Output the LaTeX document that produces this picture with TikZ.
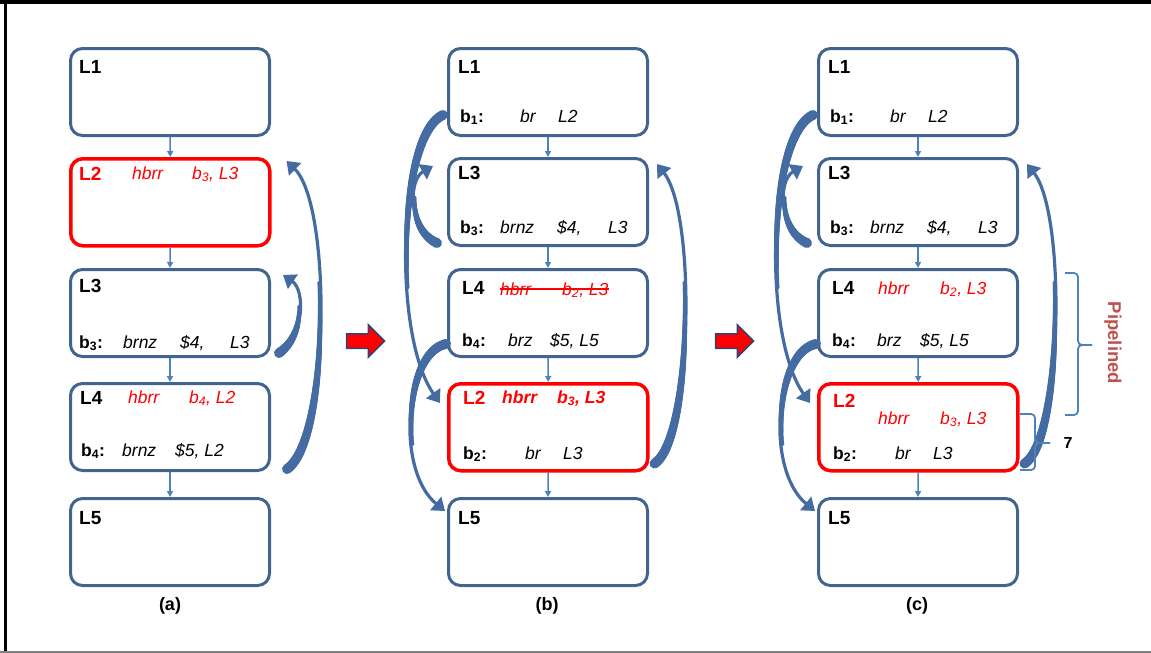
\documentclass[tikz,border=0pt]{standalone}
\usepackage{fontspec}
\setmainfont{Liberation Sans}
\usetikzlibrary{arrows.meta,shapes.arrows,calc,decorations.markings}
\definecolor{boxblue}{RGB}{65,100,145}
\definecolor{arrblue}{RGB}{68,108,162}
\definecolor{thinblue}{RGB}{79,129,189}
\definecolor{pipred}{RGB}{192,80,77}
\definecolor{blockedge}{RGB}{40,70,120}
\begin{document}
\begin{tikzpicture}[x=1pt,y=-1pt,
 box/.style={draw=boxblue, line width=3pt, rounded corners=12pt, minimum width=199pt, minimum height=87pt, anchor=north west, inner sep=0},
 redbox/.style={box, draw=red, line width=3.5pt},
 lab/.style={font=\fontsize{19}{19}\selectfont\bfseries, inner sep=0, anchor=base west},
 ins/.style={font=\fontsize{17.5}{17.5}\selectfont\itshape, inner sep=0, anchor=base west},
 bins/.style={font=\fontsize{17.5}{17.5}\selectfont\bfseries\itshape, inner sep=0, anchor=base west},
 reg/.style={font=\fontsize{17.5}{17.5}\selectfont\bfseries, inner sep=0, anchor=base west},
 flow/.style={draw=thinblue, line width=1.5pt, -{Triangle[width=6pt,length=6pt]}},
 bigarrow/.style={draw=arrblue, line width=3.2pt, -{Triangle[width=17pt,length=12pt]},
   postaction={decorate, decoration={markings,
     mark=between positions 0 and 0.6 step 1pt with {%
       \pgfmathsetmacro\rr{max(1.6,1.6+3.4*(1-\pgfkeysvalueof{/pgf/decoration/mark info/distance from start}/(0.6*\pgfdecoratedpathlength)))}%
       \fill[arrblue] (0,0) circle (\rr pt);}}}},
 blockarrow/.style={single arrow, fill=red, draw=blockedge, line width=1.5pt, inner xsep=0pt, inner ysep=6.5pt, minimum height=38pt, single arrow head extend=9pt},
 bracestyle/.style={draw=thinblue, line width=1.8pt, rounded corners=4pt},
 captext/.style={font=\fontsize{18}{18}\selectfont\bfseries, inner sep=0},
]
\useasboundingbox (0,0) rectangle (1151,653);
% frame
\fill[black] (0,0) rectangle (1151,3.5);
\fill[black] (3.5,0) rectangle (7,653);
\fill[gray] (0,650.5) rectangle (1151,653);

% ---------- panel (a)
\node[box] (a1) at (69,47) {};
\node[redbox] (a2) at (69,157) {};
\node[box] (a3) at (69,268) {};
\node[box] (a4) at (69,382) {};
\node[box] (a5) at (69,497) {};
\node[lab] (a1l) at (79,73) {L1};
\node[lab,text=red] (a2l) at (79,180) {L2};
\node[ins,text=red] (a2i) at (132,179) {hbrr};
\node[ins,text=red] (a2o) at (192,179) {b\textsubscript{3}, L3};
\node[lab] (a3l) at (79,292) {L3};
\node[reg] (a3b) at (79,348) {b\textsubscript{3}:};
\node[ins] (a3i) at (123,348) {brnz};
\node[ins] (a3o) at (180,348) {\$4,};
\node[ins] (a3t) at (230,348) {L3};
\node[lab] (a4l) at (80,404) {L4};
\node[ins,text=red] (a4i) at (128,403) {hbrr};
\node[ins,text=red] (a4o) at (189,403) {b\textsubscript{4}, L2};
\node[reg] (a4b) at (81,456) {b\textsubscript{4}:};
\node[ins] (a4i2) at (122,456) {brnz};
\node[ins] (a4o2) at (175,456) {\$5, L2};
\node[lab] (a5l) at (79,524) {L5};
\draw[flow] (a1.south) -- (a2.north);
\draw[flow] (a2.south) -- (a3.north);
\draw[flow] (a3.south) -- (a4.north);
\draw[flow] (a4.south) -- (a5.north);
\draw[bigarrow] ($(a3.south east)+(8,-5)$) .. controls (305,335) and (305,290) .. ($(a3.north east)+(12,7)$);
\draw[bigarrow] ($(a4.south east)+(16,-3)$) .. controls (330,440) and (332,205) .. ($(a2.north east)+(15,4)$);
\node[captext] (capa) at (170,606) {(a)};

% ---------- block arrows
\node[blockarrow] (ra1) at (362,341) {};
\node[blockarrow] (ra2) at (731,341) {};

% ---------- panel (b)
\node[box] (b1) at (447,47) {};
\node[box] (b3) at (447,157) {};
\node[box] (b4) at (447,268) {};
\node[redbox] (b2) at (447,382) {};
\node[box] (b5) at (447,497) {};
\node[lab] (b1l) at (458,73) {L1};
\node[reg] (b1b) at (460,122) {b\textsubscript{1}:};
\node[ins] (b1i) at (520,122) {br};
\node[ins] (b1o) at (558,122) {L2};
\node[lab] (b3l) at (458,179) {L3};
\node[reg] (b3b) at (460,233) {b\textsubscript{3}:};
\node[ins] (b3i) at (500,233) {brnz};
\node[ins] (b3o) at (557,233) {\$4,};
\node[ins] (b3t) at (608,233) {L3};
\node[lab] (b4l) at (462,294) {L4};
\node[ins,text=red] (b4h) at (500,295) {hbrr};
\node[ins,text=red] (b4x) at (562,295) {b\textsubscript{2}, L3};
\draw[red, line width=1.2pt] ($(b4h.base west)+(0,-6)$) -- ($(b4x.base east)+(0,-6)$);
\node[reg] (b4b) at (462,346) {b\textsubscript{4}:};
\node[ins] (b4i) at (508,346) {brz};
\node[ins] (b4o) at (550,346) {\$5, L5};
\node[lab,text=red] (b2l) at (463,404) {L2};
\node[bins,text=red] (b2h) at (502,403) {hbrr};
\node[bins,text=red] (b2x) at (557,403) {b\textsubscript{3}, L3};
\node[reg] (b2b) at (463,459) {b\textsubscript{2}:};
\node[ins] (b2i) at (525,459) {br};
\node[ins] (b2o) at (563,459) {L3};
\node[lab] (b5l) at (458,524) {L5};
\draw[flow] (b1.south) -- (b3.north);
\draw[flow] (b3.south) -- (b4.north);
\draw[flow] (b4.south) -- (b2.north);
\draw[flow] (b2.south) -- (b5.north);
\draw[bigarrow] ($(b1.south west)+(-4,-22)$) .. controls (398,135) and (392,335) .. ($(b2.north west)+(-7,21)$);
\draw[bigarrow] ($(b3.south west)+(-10,-4)$) .. controls (408,230) and (408,180) .. ($(b3.north west)+(-14,9)$);
\draw[bigarrow] ($(b4.south west)+(-1,-14)$) .. controls (405,352) and (395,470) .. ($(b5.north west)+(-2,14)$);
\draw[bigarrow] ($(b2.south east)+(5,-9)$) .. controls (692,440) and (697,215) .. ($(b3.north east)+(8,7)$);
\node[captext] (capb) at (547,606) {(b)};

% ---------- panel (c)
\node[box] (c1) at (817,47) {};
\node[box] (c3) at (817,157) {};
\node[box] (c4) at (817,268) {};
\node[redbox] (c2) at (817,382) {};
\node[box] (c5) at (817,497) {};
\node[lab] (c1l) at (828,73) {L1};
\node[reg] (c1b) at (830,122) {b\textsubscript{1}:};
\node[ins] (c1i) at (890,122) {br};
\node[ins] (c1o) at (928,122) {L2};
\node[lab] (c3l) at (828,179) {L3};
\node[reg] (c3b) at (830,233) {b\textsubscript{3}:};
\node[ins] (c3i) at (870,233) {brnz};
\node[ins] (c3o) at (927,233) {\$4,};
\node[ins] (c3t) at (978,233) {L3};
\node[lab] (c4l) at (832,294) {L4};
\node[ins,text=red] (c4h) at (878,294) {hbrr};
\node[ins,text=red] (c4x) at (940,294) {b\textsubscript{2}, L3};
\node[reg] (c4b) at (832,346) {b\textsubscript{4}:};
\node[ins] (c4i) at (877,346) {brz};
\node[ins] (c4o) at (920,346) {\$5, L5};
\node[lab,text=red] (c2l) at (833,407) {L2};
\node[ins,text=red] (c2h) at (878,424) {hbrr};
\node[ins,text=red] (c2x) at (940,424) {b\textsubscript{3}, L3};
\node[reg] (c2b) at (833,459) {b\textsubscript{2}:};
\node[ins] (c2i) at (895,459) {br};
\node[ins] (c2o) at (933,459) {L3};
\node[lab] (c5l) at (828,524) {L5};
\draw[flow] (c1.south) -- (c3.north);
\draw[flow] (c3.south) -- (c4.north);
\draw[flow] (c4.south) -- (c2.north);
\draw[flow] (c2.south) -- (c5.north);
\draw[bigarrow] ($(c1.south west)+(-4,-22)$) .. controls (768,135) and (762,335) .. ($(c2.north west)+(-7,21)$);
\draw[bigarrow] ($(c3.south west)+(-10,-4)$) .. controls (778,230) and (778,180) .. ($(c3.north west)+(-14,9)$);
\draw[bigarrow] ($(c4.south west)+(-1,-14)$) .. controls (775,352) and (765,470) .. ($(c5.north west)+(-2,14)$);
\draw[bigarrow] ($(c2.south east)+(5,-9)$) .. controls (1062,440) and (1067,215) .. ($(c3.north east)+(8,7)$);
\node[captext] (capc) at (917,606) {(c)};

% braces
\draw[bracestyle] (1065,273) -- (1078,273) -- (1078,345) -- (1092,345);
\draw[bracestyle] (1092,345) -- (1078,345) -- (1078,415) -- (1065,415);
\draw[bracestyle] (1020,414) -- (1035,414) -- (1035,443) -- (1050,443);
\draw[bracestyle] (1050,443) -- (1035,443) -- (1035,470) -- (1020,470);
\node[rotate=-90, text=pipred, font=\fontsize{18.5}{18.5}\selectfont\bfseries, inner sep=0] (pipe) at (1113,343) {Pipelined};
\node[font=\fontsize{16}{16}\selectfont\bfseries, inner sep=0] (seven) at (1068,443) {7};
\end{tikzpicture}
\end{document}
